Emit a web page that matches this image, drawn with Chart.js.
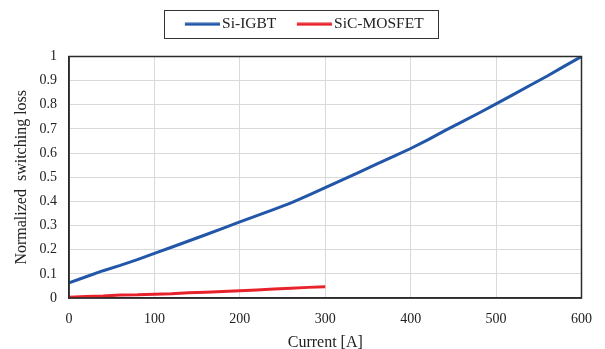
<!DOCTYPE html>
<html>
<head>
<meta charset="utf-8">
<script src="https://cdn.jsdelivr.net/npm/chart.js@4/dist/chart.umd.min.js"></script>
<style>
  html, body { margin: 0; padding: 0; background: #fff; overflow: hidden; }
  #wrap { width: 605px; height: 358px; }
</style>
</head>
<body>
<div id="wrap"><canvas id="lossChart" width="605" height="358"></canvas></div>
<script>
// Current [A] sample points
const currentSteps = [0, 20, 40, 60, 80, 100, 120, 140, 160, 180, 200, 220, 240, 260, 280, 300,
  320, 340, 360, 380, 400, 420, 440, 460, 480, 500, 520, 540, 560, 580, 600];
const igbtLoss = [0.063, 0.088, 0.113, 0.135, 0.159, 0.185, 0.210, 0.236, 0.262, 0.288, 0.315, 0.341, 0.367, 0.394, 0.425, 0.457,
  0.489, 0.521, 0.554, 0.586, 0.619, 0.655, 0.693, 0.729, 0.766, 0.804, 0.842, 0.881, 0.919, 0.960, 1.0];
// SiC only measured up to 300 A
const sicLoss = [0.003, 0.006, 0.008, 0.012, 0.013, 0.016, 0.018, 0.022, 0.024, 0.027, 0.030, 0.033, 0.037, 0.040, 0.044, 0.047];

const seriesNames = ["Si-IGBT", "SiC-MOSFET"];
const seriesColors = ["#2156a8", "#e8222b"];

const FONT = "'Liberation Serif', 'Times New Roman', serif";

function toPoints(xs, ys) {
  return ys.map((y, i) => ({ x: xs[i], y: y }));
}

// small line sample used as legend marker (sits close to the text like in Excel)
function lineMarker(color) {
  const c = document.createElement("canvas");
  c.width = 41;
  c.height = 4;
  const g = c.getContext("2d");
  g.fillStyle = color;
  g.fillRect(6, 0.5, 35, 3);
  return c;
}

// frame around plot area + box around the legend
const framePlugin = {
  id: "frame",
  beforeLayout(chart) {
    const lg = chart.legend;
    if (lg && !lg._extraGap) {
      const fit = lg.fit;
      lg.fit = function () {
        fit.call(this);
        this.height += 14.5;
      };
      lg._extraGap = true;
    }
  },
  afterDraw(chart) {
    const ctx = chart.ctx;
    const a = chart.chartArea;
    ctx.save();
    ctx.strokeStyle = "#2b2b2b";
    ctx.lineWidth = 1.5;
    ctx.strokeRect(a.left, a.top, a.right - a.left, a.bottom - a.top);

    const boxes = chart.legend.legendHitBoxes;
    if (boxes && boxes.length) {
      let l = Infinity, r = -Infinity, t = Infinity, b = -Infinity;
      boxes.forEach(h => {
        l = Math.min(l, h.left); r = Math.max(r, h.left + h.width);
        t = Math.min(t, h.top); b = Math.max(b, h.top + h.height);
      });
      ctx.strokeStyle = "#333";
      ctx.lineWidth = 1;
      const x0 = Math.round(l - 20) + 0.5, x1 = Math.round(r + 14) + 0.5;
      const y0 = Math.round(t - 6.5) + 0.5, y1 = Math.round(b + 6) + 0.5;
      ctx.strokeRect(x0, y0, x1 - x0, y1 - y0);
    }
    ctx.restore();
  }
};

new Chart(document.getElementById("lossChart"), {
  type: "line",
  data: {
    datasets: [
      {
        label: seriesNames[0],
        data: toPoints(currentSteps, igbtLoss),
        borderColor: seriesColors[0],
        backgroundColor: seriesColors[0],
        borderWidth: 3,
        pointRadius: 0,
        pointStyle: lineMarker(seriesColors[0]),
        tension: 0
      },
      {
        label: seriesNames[1],
        data: toPoints(currentSteps, sicLoss),
        borderColor: seriesColors[1],
        backgroundColor: seriesColors[1],
        borderWidth: 3,
        pointRadius: 0,
        pointStyle: lineMarker(seriesColors[1]),
        tension: 0
      }
    ]
  },
  options: {
    responsive: false,
    animation: false,
    layout: { padding: { top: -3.5, right: 22, left: 25, bottom: 0 } },
    plugins: {
      legend: {
        position: "top",
        labels: {
          usePointStyle: true,
          pointStyleWidth: 30,
          color: "#222",
          font: { family: FONT, size: 15.5 },
          padding: 20
        }
      },
      tooltip: { enabled: false }
    },
    scales: {
      x: {
        type: "linear",
        min: 0,
        max: 600,
        ticks: { stepSize: 100, color: "#222", font: { family: FONT, size: 14 }, padding: 13 },
        grid: { color: "#d9d9d9", lineWidth: 1, drawTicks: false },
        border: { color: "#2b2b2b", width: 1.5 },
        title: { display: true, text: "Current [A]", color: "#222", font: { family: FONT, size: 16 }, padding: { top: 0, bottom: 6 } },
        afterFit(scale) { scale.height = 60; }
      },
      y: {
        min: 0,
        max: 1,
        ticks: {
          stepSize: 0.1,
          color: "#222",
          font: { family: FONT, size: 14 },
          padding: 12,
          callback: v => String(Math.round(v * 10) / 10)
        },
        grid: { color: "#d9d9d9", lineWidth: 1, drawTicks: false },
        border: { color: "#2b2b2b", width: 1.5 },
        title: { display: true, text: "Normalized  switching loss", color: "#222", font: { family: FONT, size: 16 }, padding: { top: -13 } },
        afterFit(scale) { scale.width = 44; }
      }
    }
  },
  plugins: [framePlugin]
});
</script>
</body>
</html>
